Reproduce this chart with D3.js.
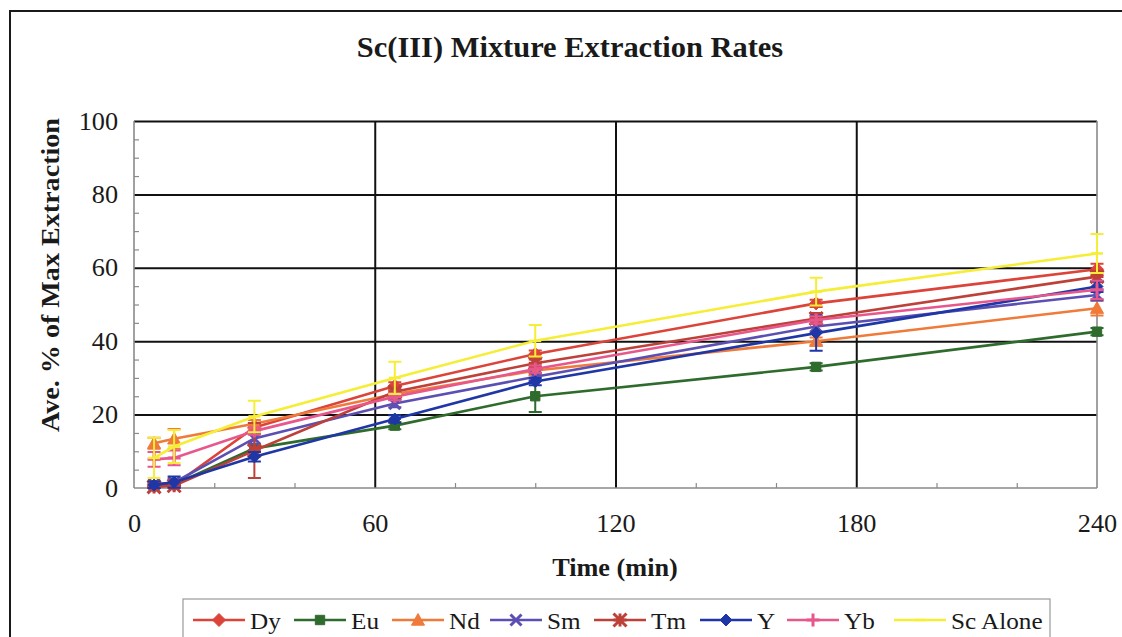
<!DOCTYPE html>
<html>
<head>
<meta charset="utf-8">
<script src="https://cdn.jsdelivr.net/npm/d3@7"></script>
<style>
  html, body { margin: 0; padding: 0; background: #ffffff; }
  svg { display: block; }
  text { font-family: "Liberation Serif", "Times New Roman", serif; fill: #1a1a1a; }
</style>
</head>
<body>
<svg id="chart" width="1122" height="637"></svg>
<script>
// Sampling times (min)
const times = [5, 10, 30, 65, 100, 170, 240];

// Average % of maximum extraction for each metal
const dyValues = [0.5, 0.8, 16.5, 27.8, 36.5, 50.3, 59.6];
const euValues = [0.5, 1.0, 10.8, 17.0, 25.0, 33.0, 42.6];
const ndValues = [12.2, 13.4, 17.5, 25.6, 32.0, 40.0, 49.0];
const smValues = [1.0, 1.5, 13.5, 23.0, 30.3, 44.0, 52.6];
const tmValues = [0.3, 0.6, 10.2, 26.2, 34.0, 46.2, 57.6];
const yValues  = [0.8, 1.6, 8.5, 18.8, 29.0, 42.2, 54.9];
const ybValues = [7.8, 8.2, 15.5, 24.9, 32.4, 45.8, 54.0];
const scValues = [8.2, 11.3, 19.5, 30.0, 40.1, 53.5, 63.9];

// Error bar half-widths (same units)
const dyErr = [0.5, 0.5, 1.0, 1.0, 1.0, 1.0, 1.5];
const euErr = [0.5, 0.5, 1.0, 1.0, 4.3, 1.0, 1.0];
const ndErr = [1.5, 2.7, 1.0, 1.0, 1.0, 1.0, 2.0];
const smErr = [0.5, 1.0, 1.5, 1.0, 1.0, 1.5, 1.5];
const tmErr = [0.5, 0.5, 7.5, 1.0, 1.0, 1.5, 1.5];
const yErr  = [1.0, 1.5, 1.3, 1.0, 1.0, 4.8, 1.5];
const ybErr = [2.0, 2.0, 1.0, 1.0, 1.0, 1.0, 2.5];
const scErr = [5.5, 4.5, 4.3, 4.4, 4.3, 3.8, 5.3];

const seriesNames = ["Dy", "Eu", "Nd", "Sm", "Tm", "Y", "Yb", "Sc Alone"];

// Axis tick values
const xTicks = [0, 60, 120, 180, 240];
const yTicks = [0, 20, 40, 60, 80, 100];
const xMinorTicks = [20, 40, 80, 100, 140, 160, 200, 220];
const yMinorTicks = [5, 10, 15, 25, 30, 35, 45, 50, 55, 65, 70, 75, 85, 90, 95];

const titleText = "Sc(III) Mixture Extraction Rates";
const xTitleText = "Time (min)";
const yTitleText = "Ave. % of Max Extraction";

// Styling per series
const styles = {
  "Dy":       { color: "#dc4339", marker: "diamond", size: 13 },
  "Eu":       { color: "#2f6b2c", marker: "square",  size: 11 },
  "Nd":       { color: "#ef7a3a", marker: "triangle", size: 13 },
  "Sm":       { color: "#5c4fb3", marker: "cross",   size: 11 },
  "Tm":       { color: "#bd4139", marker: "star",    size: 13 },
  "Y":        { color: "#1f37a6", marker: "diamond", size: 12 },
  "Yb":       { color: "#e8578c", marker: "plus",    size: 13 },
  "Sc Alone": { color: "#f5ee35", marker: "dash",    size: 12 }
};

const valueSets = [dyValues, euValues, ndValues, smValues, tmValues, yValues, ybValues, scValues];
const errorSets = [dyErr, euErr, ndErr, smErr, tmErr, yErr, ybErr, scErr];

const series = seriesNames.map((name, i) => ({
  name,
  style: styles[name],
  points: times.map((t, j) => ({ t, v: valueSets[i][j], e: errorSets[i][j] }))
}));

const svg = d3.select("#chart");
const SX = 1.05; // slight horizontal stretch of the lettering

const margin = { left: 134, right: 25, top: 121, bottom: 149 };
const W = 1122, H = 637;
const plotW = W - margin.left - margin.right;
const plotH = H - margin.top - margin.bottom;

const x = d3.scaleLinear().domain([0, 240]).range([margin.left, margin.left + plotW]);
const y = d3.scaleLinear().domain([0, 100]).range([margin.top + plotH, margin.top]);

// Outer chart frame
svg.append("rect")
  .attr("x", 10).attr("y", 11)
  .attr("width", 1130).attr("height", 660)
  .attr("fill", "#ffffff")
  .attr("stroke", "#1a1a1a").attr("stroke-width", 2);

function stretched(parent, px, py, str, size, weight, anchor) {
  const g = parent.append("g").attr("transform", `translate(${px},${py}) scale(${SX},1)`);
  return g.append("text")
    .attr("text-anchor", anchor || "middle")
    .style("font-size", size + "px")
    .style("font-weight", weight || "normal")
    .text(str);
}

// Title
stretched(svg, 570, 57, titleText, 29, "bold");

// Horizontal gridlines
const yGrid = svg.append("g")
  .attr("transform", `translate(${margin.left},0)`)
  .call(d3.axisLeft(y).tickValues(yTicks.filter(d => d > 0)).tickSize(-plotW).tickFormat(""));
yGrid.select(".domain").remove();
yGrid.selectAll(".tick line").attr("stroke", "#111").attr("stroke-width", 2);

// Vertical gridlines
const xGrid = svg.append("g")
  .attr("transform", `translate(0,${margin.top + plotH})`)
  .call(d3.axisBottom(x).tickValues([60, 120, 180]).tickSize(-plotH).tickFormat(""));
xGrid.select(".domain").remove();
xGrid.selectAll(".tick line").attr("stroke", "#111").attr("stroke-width", 2);

// Plot edges (left, bottom, right)
const edge = svg.append("g").attr("stroke", "#8a8a8a").attr("stroke-width", 1.6).attr("fill", "none");
edge.append("line").attr("x1", x(0)).attr("x2", x(0)).attr("y1", y(100)).attr("y2", y(0));
edge.append("line").attr("x1", x(0)).attr("x2", x(240)).attr("y1", y(0)).attr("y2", y(0));
edge.append("line").attr("x1", x(240)).attr("x2", x(240)).attr("y1", y(100)).attr("y2", y(0));

// Minor ticks
const yMinor = svg.append("g")
  .attr("transform", `translate(${margin.left},0)`)
  .call(d3.axisLeft(y).tickValues(yMinorTicks).tickSize(-5).tickFormat(""));
yMinor.select(".domain").remove();
yMinor.selectAll(".tick line").attr("stroke", "#8a8a8a").attr("stroke-width", 1.2);

const xMinor = svg.append("g")
  .attr("transform", `translate(0,${margin.top + plotH})`)
  .call(d3.axisBottom(x).tickValues(xMinorTicks).tickSize(-5).tickFormat(""));
xMinor.select(".domain").remove();
xMinor.selectAll(".tick line").attr("stroke", "#8a8a8a").attr("stroke-width", 1.2);

// Tick labels
const yAxis = svg.append("g")
  .attr("transform", `translate(${margin.left},0)`)
  .call(d3.axisLeft(y).tickValues(yTicks).tickSize(0).tickPadding(16));
yAxis.select(".domain").remove();
yAxis.selectAll(".tick text")
  .attr("x", 0)
  .attr("transform", `translate(-16,0) scale(${SX},1)`)
  .attr("fill", "#1a1a1a")
  .style("font-size", "25px")
  .style("font-family", "'Liberation Serif', serif");

const xAxis = svg.append("g")
  .attr("transform", `translate(0,${margin.top + plotH})`)
  .call(d3.axisBottom(x).tickValues(xTicks).tickSize(0).tickPadding(26));
xAxis.select(".domain").remove();
xAxis.selectAll(".tick text")
  .attr("y", 0)
  .attr("transform", `translate(0,26) scale(${SX},1)`)
  .attr("fill", "#1a1a1a")
  .style("font-size", "25px")
  .style("font-family", "'Liberation Serif', serif");

// Axis titles
stretched(svg, 615, 576, xTitleText, 25, "bold");

svg.append("text")
  .attr("transform", `translate(59,275) rotate(-90)`)
  .attr("text-anchor", "middle")
  .attr("textLength", 314)
  .attr("lengthAdjust", "spacingAndGlyphs")
  .style("font-size", "25px")
  .style("font-weight", "bold")
  .text(yTitleText);

// Marker shapes
function markerPath(kind, s) {
  const h = s / 2;
  switch (kind) {
    case "diamond":  return `M0,${-h}L${h},0L0,${h}L${-h},0Z`;
    case "square":   return `M${-h*0.85},${-h*0.85}H${h*0.85}V${h*0.85}H${-h*0.85}Z`;
    case "triangle": return `M0,${-h}L${h},${h*0.8}L${-h},${h*0.8}Z`;
    case "cross":    return `M${-h},${-h}L${h},${h}M${h},${-h}L${-h},${h}`;
    case "plus":     return `M${-h},0H${h}M0,${-h}V${h}`;
    case "star":     return `M${-h},${-h}L${h},${h}M${h},${-h}L${-h},${h}M${-h},0H${h}M0,${-h}V${h}`;
    case "dash":     return `M${-h},0H${h}`;
  }
}
const strokeMarkers = new Set(["cross", "plus", "star", "dash"]);

function drawMarker(g, st, cx, cy) {
  const p = g.append("path")
    .attr("d", markerPath(st.marker, st.size))
    .attr("transform", `translate(${cx},${cy})`);
  if (strokeMarkers.has(st.marker)) {
    p.attr("fill", "none").attr("stroke", st.color).attr("stroke-width", st.marker === "dash" ? 2.5 : 3);
  } else {
    p.attr("fill", st.color).attr("stroke", st.color).attr("stroke-width", 1);
  }
}

const line = d3.line().x(d => x(d.t)).y(d => y(d.v));
const plot = svg.append("g");

series.forEach(s => {
  const g = plot.append("g");
  // error bars
  s.points.forEach(p => {
    const cx = x(p.t), y1 = y(p.v + p.e), y2 = y(Math.max(p.v - p.e, 0));
    g.append("path")
      .attr("d", `M${cx},${y1}V${y2}M${cx - 6.5},${y1}H${cx + 6.5}M${cx - 6.5},${y2}H${cx + 6.5}`)
      .attr("stroke", s.style.color).attr("stroke-width", 2).attr("fill", "none");
  });
  g.append("path")
    .datum(s.points)
    .attr("d", line)
    .attr("fill", "none")
    .attr("stroke", s.style.color)
    .attr("stroke-width", 2.6);
  s.points.forEach(p => drawMarker(g, s.style, x(p.t), y(p.v)));
});

// Legend
const legend = svg.append("g");
legend.append("rect")
  .attr("x", 183).attr("y", 599)
  .attr("width", 867).attr("height", 60)
  .attr("fill", "#ffffff")
  .attr("stroke", "#9a9a9a").attr("stroke-width", 1.2);

const legendX = [193, 294, 392, 490, 594, 700, 787, 894];
series.forEach((s, i) => {
  const lx = legendX[i], ly = 620;
  legend.append("line")
    .attr("x1", lx).attr("x2", lx + 52)
    .attr("y1", ly).attr("y2", ly)
    .attr("stroke", s.style.color).attr("stroke-width", 2.6);
  drawMarker(legend, s.style, lx + 26, ly);
  stretched(legend, lx + 57, ly + 9, s.name, 24, "normal", "start");
});
</script>
</body>
</html>
